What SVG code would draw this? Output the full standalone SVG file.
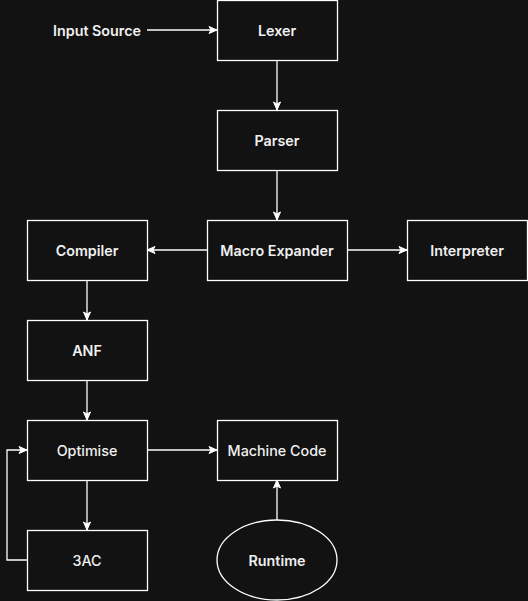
<svg xmlns="http://www.w3.org/2000/svg" width="528" height="601" viewBox="0 0 528 601">
<defs>
<marker id="arr" markerUnits="userSpaceOnUse" markerWidth="10" markerHeight="10" viewBox="0 0 10 10" refX="9" refY="5" orient="auto">
<path d="M1,1.5 L9,5 L1,8.5 L3,5 Z" fill="#ffffff" stroke="#ffffff" stroke-width="1"/>
</marker>
<style>
.box{fill:#121212;stroke:#ffffff;stroke-width:1.3}
.t{font-family:Inter,"Open Sans","Noto Sans",sans-serif;font-size:14.3px;font-weight:600;fill:#f0f0f0;text-anchor:middle;dominant-baseline:central}
.r{font-weight:500}
.c{fill:none;stroke:#ffffff;stroke-width:1.3;marker-end:url(#arr)}
</style>
</defs>
<rect width="528" height="601" fill="#121212"/>
<g id="connectors">
<path class="c" d="M147,30 L217,30"/>
<path class="c" d="M277,60 L277,110"/>
<path class="c" d="M277,170 L277,220"/>
<path class="c" d="M207,250 L147,250"/>
<path class="c" d="M347,250 L407,250"/>
<path class="c" d="M87,280 L87,320"/>
<path class="c" d="M87,380 L87,420"/>
<path class="c" d="M147,450 L217,450"/>
<path class="c" d="M87,480 L87,530"/>
<path class="c" d="M27,560 L7,560 L7,450 L27,450"/>
<path class="c" d="M277,520 L277,480"/>
</g>
<g id="input-source"><text class="t" x="97" y="30.5">Input Source</text></g>
<g id="lexer"><rect class="box" x="217.5" y="0.5" width="120" height="60"/><text class="t" x="277" y="30.5">Lexer</text></g>
<g id="parser"><rect class="box" x="217.5" y="110.5" width="120" height="60"/><text class="t" x="277" y="140.5">Parser</text></g>
<g id="macro-expander"><rect class="box" x="207.5" y="220.5" width="140" height="60"/><text class="t" x="277" y="250.5">Macro Expander</text></g>
<g id="compiler"><rect class="box" x="27.5" y="220.5" width="120" height="60"/><text class="t" x="87" y="250.5">Compiler</text></g>
<g id="interpreter"><rect class="box" x="407.5" y="220.5" width="120" height="60"/><text class="t" x="467" y="250.5">Interpreter</text></g>
<g id="anf"><rect class="box" x="27.5" y="320.5" width="120" height="60"/><text class="t" x="87" y="350.5">ANF</text></g>
<g id="optimise"><rect class="box" x="27.5" y="420.5" width="120" height="60"/><text class="t r" x="87" y="450.5">Optimise</text></g>
<g id="machine-code"><rect class="box" x="217.5" y="420.5" width="120" height="60"/><text class="t r" x="277" y="450.5">Machine Code</text></g>
<g id="3ac"><rect class="box" x="27.5" y="530.5" width="120" height="60"/><text class="t r" x="87" y="560.5">3AC</text></g>
<g id="runtime"><ellipse class="box" cx="277" cy="560" rx="60" ry="40"/><text class="t" x="277" y="560.5">Runtime</text></g>
</svg>
